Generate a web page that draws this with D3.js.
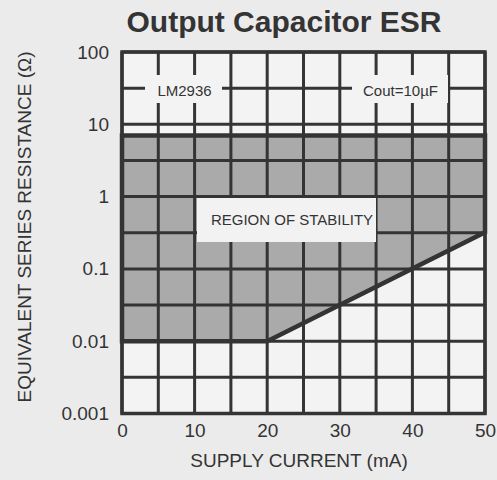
<!DOCTYPE html>
<html>
<head>
<meta charset="utf-8">
<script src="https://cdn.jsdelivr.net/npm/d3@7"></script>
<style>
  html, body { margin: 0; padding: 0; background: #ebebeb; }
  svg { display: block; font-family: "Liberation Sans", Arial, Helvetica, sans-serif; }
</style>
</head>
<body>
<svg id="chart" width="497" height="480"></svg>
<script>
// Stable operating region: supply current (mA) vs ESR limits (ohms)
const currentPts = [0, 20, 50];
const esrLower   = [0.01, 0.01, 0.32];
const esrUpper   = [7, 7, 7];

// Axis ticks
const xTicks = [0, 10, 20, 30, 40, 50];
const xGridStep = 5;
const yTicks = [0.001, 0.01, 0.1, 1, 10, 100];
const yTickLabels = ["0.001", "0.01", "0.1", "1", "10", "100"];

const title = "Output Capacitor ESR";
const xTitle = "SUPPLY CURRENT (mA)";
const yTitle = "EQUIVALENT SERIES RESISTANCE (\u03A9)";

const ink = "#343434";
const svg = d3.select("#chart");

const x = d3.scaleLinear().domain([0, 50]).range([122, 485]);
const y = d3.scaleLog().domain([0.001, 100]).range([413.5, 52]);

// plot background
svg.append("rect")
  .attr("x", x(0)).attr("y", y(100))
  .attr("width", x(50) - x(0)).attr("height", y(0.001) - y(100))
  .attr("fill", "#f3f3f3");

// shaded region of stability
const regionPts = currentPts.map((c, i) => [x(c), y(esrUpper[i])])
  .concat(currentPts.slice().reverse().map((c, i) => {
    const j = currentPts.length - 1 - i;
    return [x(c), y(esrLower[j])];
  }));
const line = d3.line();
svg.append("path")
  .attr("d", line(regionPts) + "Z")
  .attr("fill", "#aaaaaa");

// grid: every 5 mA and every half decade
const xGrid = d3.range(0, 50 + 0.001, xGridStep);
const yGrid = d3.range(-6, 5).map(k => Math.pow(10, k / 2));
const grid = svg.append("g").attr("stroke", ink).attr("stroke-width", 3);
grid.selectAll("line.v").data(xGrid).join("line")
  .attr("class", "v")
  .attr("x1", d => x(d)).attr("x2", d => x(d))
  .attr("y1", y(100)).attr("y2", y(0.001));
grid.selectAll("line.h").data(yGrid).join("line")
  .attr("class", "h")
  .attr("x1", x(0)).attr("x2", x(50))
  .attr("y1", d => y(d)).attr("y2", d => y(d));

// outer frame
svg.append("rect")
  .attr("x", x(0)).attr("y", y(100))
  .attr("width", x(50) - x(0)).attr("height", y(0.001) - y(100))
  .attr("fill", "none").attr("stroke", ink).attr("stroke-width", 3.5);

// region border
svg.append("path")
  .attr("d", line(regionPts) + "Z")
  .attr("fill", "none")
  .attr("stroke", ink).attr("stroke-width", 4.5)
  .attr("stroke-linejoin", "miter");

// in-plot labels with boxes that mask the grid
function boxedLabel(bx, by, bw, bh, fill, text, tx, ty, anchor) {
  svg.append("rect").attr("x", bx).attr("y", by).attr("width", bw).attr("height", bh)
    .attr("fill", fill);
  svg.append("text").attr("x", tx).attr("y", ty)
    .attr("text-anchor", anchor)
    .attr("font-size", 15).attr("fill", ink)
    .text(text);
}
boxedLabel(145, 75, 77, 28, "#f3f3f3", "LM2936", 184.5, 95.5, "middle");
boxedLabel(352, 75, 96, 28, "#f3f3f3", "Cout=10\u00B5F", 400.5, 95.5, "middle");
boxedLabel(197, 198, 179, 44, "#f2f2f2", "REGION OF STABILITY", 292, 225, "middle");

// axes (labels only, the grid provides the lines)
const xAxis = d3.axisBottom(x).tickValues(xTicks).tickSize(0).tickPadding(0)
  .tickFormat(d3.format("d"));
const gx = svg.append("g").attr("transform", `translate(0,${y(0.001) + 10})`).call(xAxis);
gx.select(".domain").remove();
gx.selectAll("text").attr("font-size", 19).attr("fill", ink)
  .attr("font-family", "Liberation Sans, Arial, sans-serif")
  .attr("dy", "0.71em");

const yAxis = d3.axisLeft(y).tickValues(yTicks).tickSize(0).tickPadding(13)
  .tickFormat((d, i) => yTickLabels[i]);
const gy = svg.append("g").attr("transform", `translate(${x(0)},0)`).call(yAxis);
gy.select(".domain").remove();
gy.selectAll("text").attr("font-size", 19).attr("fill", ink)
  .attr("font-family", "Liberation Sans, Arial, sans-serif");

// titles
svg.append("text").attr("x", 284).attr("y", 32)
  .attr("text-anchor", "middle").attr("font-size", 30).attr("font-weight", "bold")
  .attr("fill", ink).text(title);

svg.append("text").attr("x", 299).attr("y", 467)
  .attr("text-anchor", "middle").attr("font-size", 19)
  .attr("fill", ink).text(xTitle);

svg.append("text")
  .attr("transform", "translate(31,227) rotate(-90)")
  .attr("text-anchor", "middle").attr("font-size", 19)
  .attr("fill", ink).text(yTitle);
</script>
</body>
</html>
